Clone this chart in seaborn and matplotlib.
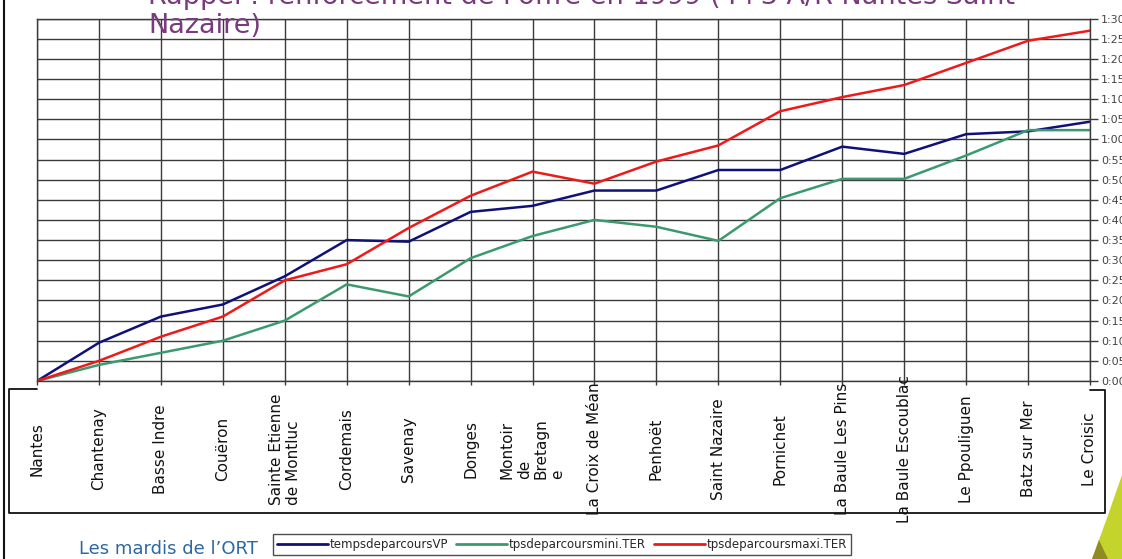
import pandas as pd
import matplotlib
matplotlib.use("Agg")
import matplotlib.pyplot as plt
import matplotlib.transforms as mtransforms
from matplotlib.lines import Line2D
from matplotlib.patches import Polygon
from matplotlib.ticker import FixedLocator, FuncFormatter
import seaborn as sns

# Stations along the Nantes - Le Croisic line
stations = ["Nantes", "Chantenay", "Basse Indre", "Couëron",
            "Sainte Etienne\nde Montluc", "Cordemais", "Savenay", "Donges",
            "Montoir\nde\nBretagn\ne", "La Croix de Méan", "Penhoët",
            "Saint Nazaire", "Pornichet", "La Baule Les Pins",
            "La Baule Escoublac", "Le Ppouliguen", "Batz sur Mer", "Le Croisic"]

# Cumulative travel times (minutes)
temps_vp = [0, 9.5, 16, 19, 26, 35, 34.6, 42, 43.5, 47.3, 47.3, 52.4, 52.4,
            58.2, 56.4, 61.3, 62, 64.4]
tps_mini_ter = [0, 4, 7, 10, 15, 24, 21, 30.5, 36, 40, 38.3, 34.8, 45.4,
                50.2, 50.2, 56, 62.3, 62.3]
tps_maxi_ter = [0, 5, 11, 16, 25, 29, 38, 46, 52, 49, 54.5, 58.5, 67, 70.5,
                73.5, 79, 84.5, 87]

series_names = ["tempsdeparcoursVP", "tpsdeparcoursmini.TER",
                "tpsdeparcoursmaxi.TER"]
series_colors = ["#10107a", "#3a9a6e", "#ee1a1a"]

title_l1 = "Rappel : renforcement de l'offre en 1999 (4+3 A/R Nantes Saint"
title_l2 = "Nazaire)"
footer = "Les mardis de l\u2019ORT"

rows = []
for name, vals in zip(series_names, [temps_vp, tps_mini_ter, tps_maxi_ter]):
    for i, v in enumerate(vals):
        rows.append({"pos": i, "minutes": v, "serie": name})
df = pd.DataFrame(rows)

sns.set_style("white")
plt.rcParams["font.family"] = ["DejaVu Sans"]

W, H = 1122, 559
fig = plt.figure(figsize=(W / 100, H / 100), dpi=100)
fig.patch.set_facecolor("white")


def fx(x):
    return x / W


def fy(y):
    return 1 - y / H


ax = fig.add_axes([fx(37), fy(381), fx(1090) - fx(37), fy(18.6) - fy(381)])
ax.set_facecolor("white")

sns.lineplot(data=df, x="pos", y="minutes", hue="serie",
             hue_order=series_names, palette=series_colors, sort=False,
             linewidth=1.8, ax=ax, legend=True)
handles, labels = ax.get_legend_handles_labels()
ax.get_legend().remove()

ax.set_xlim(0, len(stations) - 1)
ax.set_ylim(0, 90)

grid_c = "#3a3a3a"
ax.xaxis.set_major_locator(FixedLocator(range(len(stations))))
ax.yaxis.set_major_locator(FixedLocator(range(0, 91, 5)))
ax.grid(True, color=grid_c, linewidth=1.0)
ax.set_axisbelow(True)
for sp in ax.spines.values():
    sp.set_color(grid_c)
    sp.set_linewidth(1.0)

ax.yaxis.tick_right()
ax.yaxis.set_major_formatter(FuncFormatter(lambda v, p: f"{int(v) // 60}:{int(v) % 60:02d}"))
ax.tick_params(axis="y", which="major", direction="out", length=6, width=1,
               color=grid_c, pad=2, labelsize=8, labelcolor="#444444",
               left=False, right=True)
ax.tick_params(axis="x", direction="out", length=3, width=1, color=grid_c,
               labelbottom=False, bottom=True)
ax.set_xlabel("")
ax.set_ylabel("")

# Station names, rotated, inside the category box
trans = mtransforms.blended_transform_factory(ax.transData, fig.transFigure)
for i, s in enumerate(stations):
    ax.text(i, fy(449), s, transform=trans, rotation=90, ha="center",
            va="center", multialignment="left", fontsize=11, color="#111111",
            clip_on=False, linespacing=1.15)

# Box around the category labels
fig.add_artist(Line2D([fx(37), fx(9), fx(9), fx(1105), fx(1105), fx(1090)],
                      [fy(389), fy(389), fy(513), fy(513), fy(390), fy(390)],
                      transform=fig.transFigure, color="#111111", lw=1.3))

# Slide left border
fig.add_artist(Line2D([fx(4), fx(4)], [0, 1], transform=fig.transFigure,
                      color="#111111", lw=1.5))

# Title (two lines, first one runs off the top)
fig.text(fx(148), fy(4), title_l1, fontsize=19.5, color="#7a3a7e",
         va="baseline", ha="left")
fig.text(fx(148), fy(33), title_l2, fontsize=19.5, color="#7a3a7e",
         va="baseline", ha="left")

# Legend
leg = fig.legend(handles, labels, loc="center", ncol=3,
                 bbox_to_anchor=(fx(562), fy(544.5)), frameon=True,
                 fontsize=8.5, handlelength=4.3, handletextpad=0.15,
                 columnspacing=0.7, borderpad=0.3, fancybox=False)
leg.get_frame().set_edgecolor("#222222")
leg.get_frame().set_linewidth(1.0)
for ln in leg.get_lines():
    ln.set_linewidth(2.0)

# Footer
fig.text(fx(258), fy(549), footer, fontsize=13, color="#2c67a6",
         ha="right", va="center")

# Decorative swoosh at the bottom right corner
fig.add_artist(Polygon([(fx(1122), fy(475)), (fx(1122), fy(559)),
                        (fx(1092), fy(559)), (fx(1107), fy(518))],
                       closed=True, transform=fig.transFigure,
                       facecolor="#c5d42c", edgecolor="none"))
fig.add_artist(Polygon([(fx(1099), fy(540)), (fx(1108), fy(559)),
                        (fx(1092), fy(559))],
                       closed=True, transform=fig.transFigure,
                       facecolor="#8f8a22", edgecolor="none"))

fig.savefig("out.png", dpi=100, facecolor="white")
